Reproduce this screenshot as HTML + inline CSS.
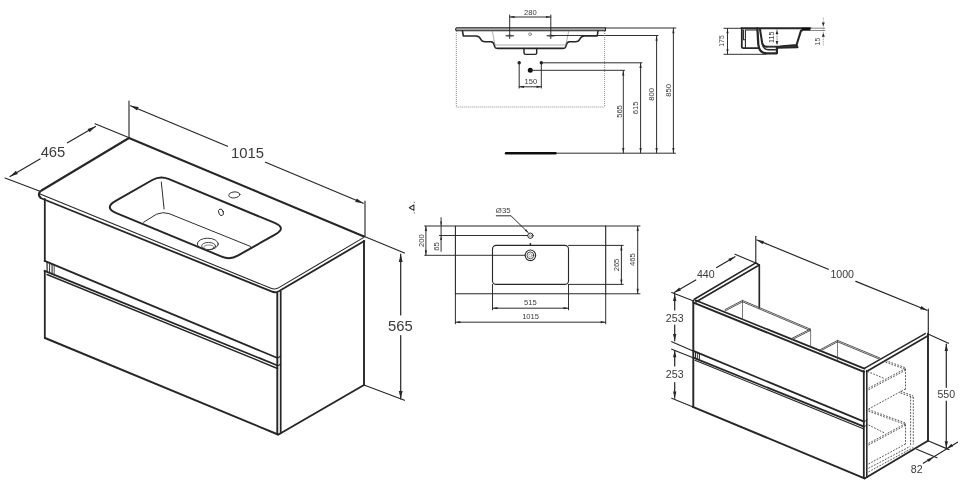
<!DOCTYPE html>
<html><head><meta charset="utf-8"><title>Technical drawing</title>
<style>
html,body{margin:0;padding:0;background:#fff;}
body{width:960px;height:492px;overflow:hidden;}
svg{display:block;font-family:"Liberation Sans",sans-serif;}
</style></head><body>
<svg width="960" height="492" viewBox="0 0 960 492" stroke-linecap="round" stroke-linejoin="round">
<defs><filter id="soft" x="0" y="0" width="960" height="492" filterUnits="userSpaceOnUse"><feGaussianBlur stdDeviation="0.45"/></filter></defs>
<rect width="960" height="492" fill="#fff"/>
<g filter="url(#soft)">
<path d="M40.5,197.5 Q38,195.5 39.5,192.5 Q40,191.5 41.5,190.5 L129,138 L364,236.5" stroke="#262626" stroke-width="2.1" fill="none" />
<path d="M39.5,193.7 L271,288.3 Q274.5,289.9 278,288.1 L363.5,237.6" stroke="#262626" stroke-width="1.08" fill="none" />
<path d="M40.5,198 L271.5,291.4 Q275,293.2 278.8,291.2 L364.3,241" stroke="#262626" stroke-width="1.86" fill="none" />
<line x1="44.8" y1="199.0" x2="44.8" y2="260.8" stroke="#262626" stroke-width="1.8" />
<line x1="44.8" y1="270.8" x2="44.8" y2="338.0" stroke="#262626" stroke-width="1.8" />
<line x1="45.0" y1="338.0" x2="278.0" y2="434.5" stroke="#262626" stroke-width="1.92" />
<line x1="277.3" y1="293.0" x2="277.3" y2="434.3" stroke="#262626" stroke-width="1.92" />
<line x1="280.7" y1="291.6" x2="280.7" y2="433.3" stroke="#262626" stroke-width="1.74" />
<line x1="278.5" y1="434.5" x2="364.0" y2="385.0" stroke="#262626" stroke-width="1.92" />
<line x1="364.0" y1="241.0" x2="364.0" y2="385.0" stroke="#262626" stroke-width="1.92" />
<line x1="47.1" y1="262.2" x2="47.1" y2="271.6" stroke="#262626" stroke-width="1.2" />
<line x1="49.6" y1="263.2" x2="49.6" y2="272.6" stroke="#262626" stroke-width="0.96" />
<line x1="52.1" y1="264.2" x2="52.1" y2="273.6" stroke="#262626" stroke-width="1.08" />
<line x1="54.2" y1="265.0" x2="54.2" y2="274.4" stroke="#262626" stroke-width="0.84" />
<line x1="44.6" y1="260.8" x2="277.5" y2="358.0" stroke="#262626" stroke-width="1.8" />
<line x1="44.6" y1="270.8" x2="277.5" y2="365.5" stroke="#262626" stroke-width="1.8" />
<line x1="47.0" y1="274.5" x2="277.5" y2="368.5" stroke="#262626" stroke-width="1.38" />
<line x1="277.3" y1="358.0" x2="280.7" y2="356.3" stroke="#262626" stroke-width="1.08" />
<line x1="277.3" y1="366.0" x2="280.7" y2="364.3" stroke="#262626" stroke-width="1.08" />
<path d="M152.3,180.0 Q160.1,175.5 168.4,178.9 L274.7,222.9 Q286.7,227.9 275.4,234.3 L237.8,255.7 Q230.0,260.1 221.7,256.7 L116.4,213.1 Q103.5,207.8 115.7,200.9 Z" stroke="#262626" stroke-width="1.98" fill="none" />
<path d="M143.5,222.3 L156.5,214.2 Q163,211.5 169,213.6 L250.7,246.5 L250.7,248.2" stroke="#262626" stroke-width="0.96" fill="none" />
<line x1="161.3" y1="182.0" x2="164.1" y2="209.0" stroke="#262626" stroke-width="0.96" />
<ellipse cx="234.3" cy="194.9" rx="5.6" ry="3" transform="rotate(-6 234.3 194.9)" fill="none" stroke="#262626" stroke-width="0.9"/>
<ellipse cx="221" cy="212.3" rx="2.3" ry="3.4" transform="rotate(-20 221 212.3)" fill="none" stroke="#262626" stroke-width="0.9"/>
<clipPath id="sk"><path d="M152.3,180.0 Q160.1,175.5 168.4,178.9 L274.7,222.9 Q286.7,227.9 275.4,234.3 L237.8,255.7 Q230.0,260.1 221.7,256.7 L116.4,213.1 Q103.5,207.8 115.7,200.9 Z"/></clipPath>
<g clip-path="url(#sk)"><ellipse cx="207.8" cy="244" rx="10.5" ry="5.8" fill="none" stroke="#262626" stroke-width="0.9"/><ellipse cx="208.6" cy="246" rx="7" ry="3.6" fill="none" stroke="#262626" stroke-width="0.8"/><ellipse cx="208.8" cy="247.4" rx="5" ry="2.4" fill="none" stroke="#555" stroke-width="0.7"/></g>
<line x1="129.0" y1="101.0" x2="129.0" y2="138.0" stroke="#262626" stroke-width="1.14" />
<line x1="365.0" y1="201.0" x2="365.0" y2="236.0" stroke="#262626" stroke-width="1.14" />
<line x1="130.5" y1="105.8" x2="227.5" y2="146.3" stroke="#262626" stroke-width="1.2" />
<line x1="265.5" y1="162.2" x2="363.3" y2="203.2" stroke="#262626" stroke-width="1.2" />
<polygon points="130.5,105.8 138.6,107.1 137.1,110.6" fill="#262626"/>
<polygon points="363.3,203.2 355.2,201.9 356.7,198.4" fill="#262626"/>
<text x="247.5" y="153.2" font-size="14.8" text-anchor="middle" dominant-baseline="central" fill="#3a3a3a">1015</text>
<line x1="5.0" y1="178.0" x2="40.0" y2="191.3" stroke="#262626" stroke-width="1.14" />
<line x1="95.0" y1="123.8" x2="128.0" y2="137.3" stroke="#262626" stroke-width="1.14" />
<line x1="10.0" y1="176.5" x2="40.0" y2="159.0" stroke="#262626" stroke-width="1.2" />
<line x1="67.5" y1="142.8" x2="95.5" y2="126.5" stroke="#262626" stroke-width="1.2" />
<polygon points="10.0,176.5 15.9,170.8 17.9,174.1" fill="#262626"/>
<polygon points="95.5,126.5 89.6,132.2 87.6,128.9" fill="#262626"/>
<text x="53.0" y="152.0" font-size="14.8" text-anchor="middle" dominant-baseline="central" fill="#3a3a3a">465</text>
<line x1="364.5" y1="236.5" x2="404.5" y2="253.0" stroke="#262626" stroke-width="1.14" />
<line x1="364.0" y1="385.0" x2="404.5" y2="400.2" stroke="#262626" stroke-width="1.14" />
<line x1="400.7" y1="254.0" x2="400.7" y2="315.0" stroke="#262626" stroke-width="1.2" />
<line x1="400.7" y1="335.5" x2="400.7" y2="399.0" stroke="#262626" stroke-width="1.2" />
<polygon points="400.7,254.0 402.6,262.0 398.8,262.0" fill="#262626"/>
<polygon points="400.7,399.0 398.8,391.0 402.6,391.0" fill="#262626"/>
<text x="400.3" y="325.5" font-size="14.8" text-anchor="middle" dominant-baseline="central" fill="#3a3a3a">565</text>
<path d="M409.3,207.8 L413.9,204.9 L413.9,210.4 Z" stroke="#2a2a2a" stroke-width="1.02" fill="none" />
<circle cx="414.3" cy="202.3" r="0.6" fill="#444"/><circle cx="414.3" cy="212.8" r="0.6" fill="#444"/>
<path d="M456.5,27.8 L605.5,27.8 L605.5,30.8 L456.5,30.8 Q454.6,29.3 456.5,27.8 Z" stroke="#262626" stroke-width="1.08" fill="#a8a8a8" />
<path d="M462.5,31 L463.3,35.9 L476,36 Q479.5,36.2 480.8,39.2 Q481.8,41.6 485,41.7 L491,41.8 Q493.6,42 494.2,45 L495,47.3 Q495.5,48.4 497.5,48.4 L563,48.4 Q565,48.4 565.5,47.3 L566.3,45 Q566.9,42 569.5,41.8 L575.5,41.7 Q578.7,41.6 579.7,39.2 Q581,36.2 584.5,36 L597.2,35.9 L598,31" stroke="#262626" stroke-width="1.56" fill="none" />
<path d="M524,48.4 L524,53 Q524,54.4 525.5,54.4 L535.2,54.4 Q536.7,54.4 536.7,53 L536.7,48.4" stroke="#262626" stroke-width="1.44" fill="none" />
<path d="M492.3,31 L495,45 L565.8,45 L568.7,31" stroke="#777" stroke-width="0.6" fill="none" />
<circle cx="530" cy="34.2" r="1.4" fill="none" stroke="#555" stroke-width="0.6"/>
<line x1="509.7" y1="15.0" x2="509.7" y2="38.5" stroke="#262626" stroke-width="0.96" />
<line x1="505.9" y1="35.8" x2="513.5" y2="35.8" stroke="#262626" stroke-width="1.08" />
<ellipse cx="509.7" cy="35.8" rx="2.6" ry="1" fill="none" stroke="#555" stroke-width="0.5"/>
<line x1="550.8" y1="15.0" x2="550.8" y2="38.5" stroke="#262626" stroke-width="0.96" />
<line x1="547.0" y1="35.8" x2="554.6" y2="35.8" stroke="#262626" stroke-width="1.08" />
<ellipse cx="550.8" cy="35.8" rx="2.6" ry="1" fill="none" stroke="#555" stroke-width="0.5"/>
<line x1="509.7" y1="17.0" x2="550.8" y2="17.0" stroke="#262626" stroke-width="0.96" />
<polygon points="509.7,17.0 514.5,15.9 514.5,18.1" fill="#262626"/>
<polygon points="550.8,17.0 546.0,18.1 546.0,15.9" fill="#262626"/>
<text x="530.3" y="12.2" font-size="7.6" text-anchor="middle" dominant-baseline="central" fill="#3a3a3a">280</text>
<line x1="550.8" y1="35.5" x2="658.0" y2="35.5" stroke="#262626" stroke-width="0.96" />
<line x1="605.5" y1="28.0" x2="675.8" y2="28.0" stroke="#262626" stroke-width="0.96" />
<line x1="456.3" y1="31.0" x2="456.3" y2="107.0" stroke="#777" stroke-width="0.84" stroke-dasharray="1 1" stroke-linecap="butt"/>
<line x1="604.6" y1="31.0" x2="604.6" y2="107.0" stroke="#777" stroke-width="0.84" stroke-dasharray="1 1" stroke-linecap="butt"/>
<line x1="456.3" y1="107.0" x2="604.6" y2="107.0" stroke="#777" stroke-width="0.84" stroke-dasharray="1 1" stroke-linecap="butt"/>
<circle cx="519.2" cy="62.8" r="1.7" fill="#262626"/><circle cx="541.3" cy="62.8" r="1.7" fill="#262626"/><circle cx="530.3" cy="70.3" r="2.5" fill="#111"/>
<line x1="519.2" y1="62.8" x2="519.2" y2="88.0" stroke="#262626" stroke-width="0.96" />
<line x1="541.3" y1="62.8" x2="541.3" y2="88.0" stroke="#262626" stroke-width="0.96" />
<line x1="519.2" y1="86.8" x2="541.3" y2="86.8" stroke="#262626" stroke-width="0.96" />
<polygon points="519.2,86.8 524.0,85.7 524.0,87.9" fill="#262626"/>
<polygon points="541.3,86.8 536.5,87.9 536.5,85.7" fill="#262626"/>
<text x="530.8" y="81.2" font-size="7.6" text-anchor="middle" dominant-baseline="central" fill="#3a3a3a">150</text>
<line x1="541.3" y1="62.8" x2="642.0" y2="62.8" stroke="#262626" stroke-width="0.96" />
<line x1="530.3" y1="70.3" x2="624.5" y2="70.3" stroke="#262626" stroke-width="0.96" />
<line x1="623.3" y1="70.6" x2="623.3" y2="153.0" stroke="#262626" stroke-width="0.96" />
<polygon points="623.3,70.6 624.4,75.6 622.2,75.6" fill="#262626"/>
<polygon points="623.3,153.0 622.2,148.0 624.4,148.0" fill="#262626"/>
<text x="619.0" y="111.5" font-size="7.6" text-anchor="middle" dominant-baseline="central" fill="#3a3a3a" transform="rotate(-90 619.0 111.5)">565</text>
<line x1="640.6" y1="63.0" x2="640.6" y2="153.0" stroke="#262626" stroke-width="0.96" />
<polygon points="640.6,63.0 641.7,68.0 639.5,68.0" fill="#262626"/>
<polygon points="640.6,153.0 639.5,148.0 641.7,148.0" fill="#262626"/>
<text x="635.8" y="107.8" font-size="7.6" text-anchor="middle" dominant-baseline="central" fill="#3a3a3a" transform="rotate(-90 635.8 107.8)">615</text>
<line x1="656.6" y1="35.7" x2="656.6" y2="153.0" stroke="#262626" stroke-width="0.96" />
<polygon points="656.6,35.7 657.7,40.7 655.5,40.7" fill="#262626"/>
<polygon points="656.6,153.0 655.5,148.0 657.7,148.0" fill="#262626"/>
<text x="651.7" y="94.4" font-size="7.6" text-anchor="middle" dominant-baseline="central" fill="#3a3a3a" transform="rotate(-90 651.7 94.4)">800</text>
<line x1="673.4" y1="28.2" x2="673.4" y2="153.0" stroke="#262626" stroke-width="0.96" />
<polygon points="673.4,28.2 674.5,33.2 672.3,33.2" fill="#262626"/>
<polygon points="673.4,153.0 672.3,148.0 674.5,148.0" fill="#262626"/>
<text x="668.4" y="90.3" font-size="7.6" text-anchor="middle" dominant-baseline="central" fill="#3a3a3a" transform="rotate(-90 668.4 90.3)">850</text>
<line x1="506.0" y1="153.2" x2="675.5" y2="153.2" stroke="#262626" stroke-width="0.96" />
<line x1="506.0" y1="153.2" x2="555.5" y2="153.2" stroke="#111" stroke-width="2.4" />
<line x1="724.0" y1="28.3" x2="741.8" y2="28.3" stroke="#262626" stroke-width="0.96" />
<line x1="724.0" y1="54.3" x2="766.0" y2="54.3" stroke="#262626" stroke-width="0.96" />
<line x1="727.5" y1="28.5" x2="727.5" y2="54.1" stroke="#262626" stroke-width="0.96" />
<polygon points="727.5,28.5 728.6,33.3 726.4,33.3" fill="#262626"/>
<polygon points="727.5,54.1 726.4,49.3 728.6,49.3" fill="#262626"/>
<text x="721.6" y="41.0" font-size="6.9" text-anchor="middle" dominant-baseline="central" fill="#3a3a3a" transform="rotate(-90 721.6 41.0)">175</text>
<line x1="741.5" y1="28.3" x2="810.3" y2="28.3" stroke="#262626" stroke-width="2.04" />
<rect x="801.7" y="27.7" width="8.6" height="3" fill="#111"/>
<path d="M741.8,28.3 L741.8,46.5 Q741.8,48.1 743.4,48.1 L757.6,48.1" stroke="#262626" stroke-width="1.8" fill="none" />
<path d="M743.4,30 L743.4,39.8 L745.4,39.8 M745.4,30 L745.4,48 M745.4,30 L757,30" stroke="#262626" stroke-width="1.08" fill="none" />
<path d="M757.4,28.3 L758.3,44.5 Q759.2,53.3 766.5,53.3 L776.9,53.3 L776.9,47.6 L797.4,47.2" stroke="#262626" stroke-width="2.28" fill="none" />
<path d="M760,29.4 L762.2,43 Q763,46.8 767,46.7 L779.8,46.6 L796.5,45 L801.1,30.4 L802,30.4" stroke="#262626" stroke-width="2.04" fill="none" />
<path d="M762.3,43.6 Q763.4,49.7 768.6,49.7 L775.3,49.7" stroke="#262626" stroke-width="1.44" fill="none" />
<line x1="797.5" y1="47.2" x2="797.0" y2="45.0" stroke="#262626" stroke-width="1.2" />
<rect x="767.6" y="46.8" width="7.2" height="1.3" fill="#777"/>
<line x1="777.0" y1="28.6" x2="777.0" y2="45.0" stroke="#262626" stroke-width="0.72" stroke-dasharray="1 0.8" stroke-linecap="butt"/>
<polygon points="777.0,30.2 778.4,34.0 775.6,34.0" fill="#262626"/>
<polygon points="777.0,44.8 775.6,41.0 778.4,41.0" fill="#262626"/>
<text x="771.4" y="37.2" font-size="7.2" text-anchor="middle" dominant-baseline="central" fill="#3a3a3a" transform="rotate(-90 771.4 37.2)">115</text>
<line x1="810.3" y1="28.2" x2="824.8" y2="28.2" stroke="#555" stroke-width="0.72" />
<line x1="810.3" y1="30.5" x2="824.8" y2="30.5" stroke="#555" stroke-width="0.72" />
<line x1="823.3" y1="17.5" x2="823.3" y2="45.5" stroke="#777" stroke-width="0.72" stroke-dasharray="1 0.8" stroke-linecap="butt"/>
<polygon points="823.3,26.2 821.8,22.4 824.8,22.4" fill="#262626"/>
<polygon points="823.3,33.0 824.8,36.8 821.8,36.8" fill="#262626"/>
<text x="818.0" y="41.6" font-size="6.9" text-anchor="middle" dominant-baseline="central" fill="#3a3a3a" transform="rotate(-90 818.0 41.6)">15</text>
<rect x="455.4" y="226" width="150.3" height="67.8" fill="none" stroke="#262626" stroke-width="1.1"/>
<rect x="492.5" y="245.4" width="76" height="39" rx="3.7" fill="none" stroke="#262626" stroke-width="1.1"/>
<circle cx="530.4" cy="235.7" r="2.7" fill="none" stroke="#262626" stroke-width="1.0"/><circle cx="530.4" cy="235.7" r="1.1" fill="none" stroke="#555" stroke-width="0.5"/>
<circle cx="530.4" cy="255.3" r="5.3" fill="none" stroke="#262626" stroke-width="1.1"/><circle cx="530.4" cy="255.3" r="3.4" fill="none" stroke="#262626" stroke-width="0.8"/><circle cx="530.4" cy="255.3" r="1.6" fill="none" stroke="#666" stroke-width="0.5"/>
<line x1="530.4" y1="243.6" x2="530.4" y2="245.2" stroke="#262626" stroke-width="1.44" />
<text x="503.2" y="210.6" font-size="7.8" text-anchor="middle" dominant-baseline="central" fill="#3a3a3a">Ø35</text>
<path d="M496.3,215.8 L511,215.8 L528.2,232.6" stroke="#262626" stroke-width="0.96" fill="none" />
<polygon points="528.6,233.0 524.8,230.5 526.1,229.2" fill="#262626"/>
<line x1="424.7" y1="226.0" x2="455.0" y2="226.0" stroke="#262626" stroke-width="0.96" />
<line x1="424.7" y1="255.3" x2="525.0" y2="255.3" stroke="#262626" stroke-width="0.96" />
<line x1="439.4" y1="235.5" x2="527.5" y2="235.5" stroke="#262626" stroke-width="0.96" />
<line x1="425.9" y1="226.2" x2="425.9" y2="255.1" stroke="#262626" stroke-width="0.96" />
<polygon points="425.9,226.2 427.0,231.0 424.8,231.0" fill="#262626"/>
<polygon points="425.9,255.1 424.8,250.3 427.0,250.3" fill="#262626"/>
<text x="421.3" y="240.6" font-size="7.6" text-anchor="middle" dominant-baseline="central" fill="#3a3a3a" transform="rotate(-90 421.3 240.6)">200</text>
<line x1="441.1" y1="217.7" x2="441.1" y2="251.3" stroke="#262626" stroke-width="0.96" />
<polygon points="441.1,226.0 440.2,221.5 442.0,221.5" fill="#262626"/>
<polygon points="441.1,235.6 442.0,240.1 440.2,240.1" fill="#262626"/>
<text x="436.2" y="246.5" font-size="7.6" text-anchor="middle" dominant-baseline="central" fill="#3a3a3a" transform="rotate(-90 436.2 246.5)">65</text>
<line x1="605.7" y1="226.0" x2="640.0" y2="226.0" stroke="#262626" stroke-width="0.96" />
<line x1="605.7" y1="293.8" x2="640.0" y2="293.8" stroke="#262626" stroke-width="0.96" />
<line x1="637.7" y1="226.2" x2="637.7" y2="293.6" stroke="#262626" stroke-width="0.96" />
<polygon points="637.7,226.2 638.8,231.0 636.6,231.0" fill="#262626"/>
<polygon points="637.7,293.6 636.6,288.8 638.8,288.8" fill="#262626"/>
<text x="633.0" y="259.7" font-size="7.6" text-anchor="middle" dominant-baseline="central" fill="#3a3a3a" transform="rotate(-90 633.0 259.7)">465</text>
<line x1="568.5" y1="245.4" x2="623.2" y2="245.4" stroke="#262626" stroke-width="0.96" />
<line x1="568.5" y1="284.4" x2="623.2" y2="284.4" stroke="#262626" stroke-width="0.96" />
<line x1="621.4" y1="245.6" x2="621.4" y2="284.2" stroke="#262626" stroke-width="0.96" />
<polygon points="621.4,245.6 622.5,250.4 620.3,250.4" fill="#262626"/>
<polygon points="621.4,284.2 620.3,279.4 622.5,279.4" fill="#262626"/>
<text x="616.5" y="265.0" font-size="7.6" text-anchor="middle" dominant-baseline="central" fill="#3a3a3a" transform="rotate(-90 616.5 265.0)">265</text>
<line x1="492.5" y1="284.4" x2="492.5" y2="309.8" stroke="#262626" stroke-width="0.96" />
<line x1="568.5" y1="284.4" x2="568.5" y2="309.8" stroke="#262626" stroke-width="0.96" />
<line x1="492.7" y1="308.2" x2="568.3" y2="308.2" stroke="#262626" stroke-width="0.96" />
<polygon points="492.7,308.2 497.5,307.1 497.5,309.3" fill="#262626"/>
<polygon points="568.3,308.2 563.5,309.3 563.5,307.1" fill="#262626"/>
<text x="530.3" y="302.6" font-size="7.6" text-anchor="middle" dominant-baseline="central" fill="#3a3a3a">515</text>
<line x1="455.4" y1="293.8" x2="455.4" y2="323.8" stroke="#262626" stroke-width="0.96" />
<line x1="605.7" y1="293.8" x2="605.7" y2="323.8" stroke="#262626" stroke-width="0.96" />
<line x1="455.6" y1="322.2" x2="605.5" y2="322.2" stroke="#262626" stroke-width="0.96" />
<polygon points="455.6,322.2 460.4,321.1 460.4,323.3" fill="#262626"/>
<polygon points="605.5,322.2 600.7,323.3 600.7,321.1" fill="#262626"/>
<text x="530.6" y="316.8" font-size="7.6" text-anchor="middle" dominant-baseline="central" fill="#3a3a3a">1015</text>
<path d="M694.3,299.2 L755.8,262.9 L759.3,264.9 L695.8,301.9" stroke="#262626" stroke-width="1.68" fill="none" />
<line x1="759.3" y1="265.0" x2="759.3" y2="307.8" stroke="#262626" stroke-width="1.68" />
<line x1="695.5" y1="300.2" x2="864.5" y2="368.6" stroke="#262626" stroke-width="1.68" />
<line x1="693.4" y1="302.6" x2="864.0" y2="371.8" stroke="#262626" stroke-width="1.92" />
<line x1="693.3" y1="300.6" x2="693.3" y2="406.8" stroke="#262626" stroke-width="1.92" />
<line x1="692.8" y1="406.8" x2="864.5" y2="478.4" stroke="#262626" stroke-width="1.92" />
<line x1="863.8" y1="371.0" x2="863.8" y2="478.0" stroke="#262626" stroke-width="1.8" />
<line x1="866.8" y1="370.5" x2="866.8" y2="477.2" stroke="#262626" stroke-width="1.56" />
<line x1="864.4" y1="368.4" x2="925.2" y2="333.6" stroke="#262626" stroke-width="1.56" />
<line x1="866.6" y1="371.5" x2="928.0" y2="335.8" stroke="#262626" stroke-width="1.8" />
<line x1="928.0" y1="333.8" x2="928.0" y2="440.8" stroke="#262626" stroke-width="1.92" />
<line x1="865.0" y1="478.3" x2="928.0" y2="440.8" stroke="#262626" stroke-width="1.92" />
<line x1="695.6" y1="352.0" x2="695.6" y2="357.9" stroke="#262626" stroke-width="1.08" />
<line x1="697.6" y1="352.8" x2="697.6" y2="358.8" stroke="#262626" stroke-width="0.84" />
<line x1="699.4" y1="353.6" x2="699.4" y2="359.6" stroke="#262626" stroke-width="0.96" />
<line x1="693.3" y1="350.9" x2="864.0" y2="421.6" stroke="#262626" stroke-width="1.68" />
<line x1="693.3" y1="357.6" x2="864.0" y2="426.6" stroke="#262626" stroke-width="1.68" />
<line x1="695.0" y1="360.3" x2="864.0" y2="429.0" stroke="#262626" stroke-width="1.08" />
<line x1="864.0" y1="421.6" x2="867.0" y2="420.0" stroke="#262626" stroke-width="0.84" />
<line x1="864.0" y1="426.6" x2="867.0" y2="425.0" stroke="#262626" stroke-width="0.84" />
<line x1="725.0" y1="309.6" x2="742.5" y2="300.4" stroke="#444" stroke-width="0.9" />
<line x1="725.0" y1="311.0" x2="742.5" y2="301.8" stroke="#444" stroke-width="0.9" />
<line x1="742.5" y1="300.4" x2="810.0" y2="329.0" stroke="#444" stroke-width="0.9" />
<line x1="742.5" y1="301.8" x2="810.0" y2="330.4" stroke="#444" stroke-width="0.9" />
<line x1="810.4" y1="329.0" x2="791.8" y2="338.4" stroke="#444" stroke-width="0.9" />
<line x1="810.4" y1="330.4" x2="791.8" y2="339.8" stroke="#444" stroke-width="0.9" />
<line x1="742.5" y1="300.8" x2="742.5" y2="319.5" stroke="#444" stroke-width="0.72" />
<line x1="810.6" y1="329.5" x2="810.6" y2="347.5" stroke="#444" stroke-width="0.72" />
<line x1="820.0" y1="349.8" x2="837.5" y2="340.4" stroke="#444" stroke-width="0.9" />
<line x1="820.0" y1="351.2" x2="837.5" y2="341.8" stroke="#444" stroke-width="0.9" />
<line x1="837.5" y1="340.4" x2="880.0" y2="358.0" stroke="#444" stroke-width="0.9" />
<line x1="837.5" y1="341.8" x2="880.0" y2="359.4" stroke="#444" stroke-width="0.9" />
<line x1="837.5" y1="341.0" x2="837.5" y2="359.5" stroke="#444" stroke-width="0.72" />
<line x1="885.6" y1="360.6" x2="905.5" y2="367.8" stroke="#3a3a3a" stroke-width="0.84" stroke-dasharray="1.8 1.3" stroke-linecap="butt"/>
<line x1="885.6" y1="362.2" x2="905.5" y2="369.4" stroke="#3a3a3a" stroke-width="0.84" stroke-dasharray="1.8 1.3" stroke-linecap="butt"/>
<line x1="867.5" y1="371.5" x2="884.2" y2="378.4" stroke="#3a3a3a" stroke-width="0.84" stroke-dasharray="1.8 1.3" stroke-linecap="butt"/>
<line x1="868.5" y1="388.2" x2="905.5" y2="368.6" stroke="#3a3a3a" stroke-width="0.84" stroke-dasharray="1.8 1.3" stroke-linecap="butt"/>
<line x1="868.5" y1="389.8" x2="905.5" y2="370.2" stroke="#3a3a3a" stroke-width="0.84" stroke-dasharray="1.8 1.3" stroke-linecap="butt"/>
<line x1="905.5" y1="369.0" x2="905.5" y2="389.5" stroke="#3a3a3a" stroke-width="0.84" stroke-dasharray="1.8 1.3" stroke-linecap="butt"/>
<line x1="905.5" y1="389.0" x2="868.5" y2="409.0" stroke="#3a3a3a" stroke-width="0.84" stroke-dasharray="1.8 1.3" stroke-linecap="butt"/>
<line x1="900.5" y1="391.4" x2="913.3" y2="395.8" stroke="#3a3a3a" stroke-width="0.84" stroke-dasharray="1.8 1.3" stroke-linecap="butt"/>
<line x1="900.5" y1="393.0" x2="913.3" y2="397.4" stroke="#3a3a3a" stroke-width="0.84" stroke-dasharray="1.8 1.3" stroke-linecap="butt"/>
<line x1="910.6" y1="396.5" x2="910.6" y2="446.0" stroke="#3a3a3a" stroke-width="0.84" stroke-dasharray="1.8 1.3" stroke-linecap="butt"/>
<line x1="913.3" y1="397.0" x2="913.3" y2="444.5" stroke="#3a3a3a" stroke-width="0.84" stroke-dasharray="1.8 1.3" stroke-linecap="butt"/>
<line x1="868.5" y1="409.6" x2="905.5" y2="423.0" stroke="#3a3a3a" stroke-width="0.84" stroke-dasharray="1.8 1.3" stroke-linecap="butt"/>
<line x1="868.5" y1="411.2" x2="905.5" y2="424.6" stroke="#3a3a3a" stroke-width="0.84" stroke-dasharray="1.8 1.3" stroke-linecap="butt"/>
<line x1="868.5" y1="425.0" x2="884.0" y2="432.7" stroke="#3a3a3a" stroke-width="0.84" stroke-dasharray="1.8 1.3" stroke-linecap="butt"/>
<line x1="868.5" y1="443.4" x2="905.5" y2="423.6" stroke="#3a3a3a" stroke-width="0.84" stroke-dasharray="1.8 1.3" stroke-linecap="butt"/>
<line x1="868.5" y1="445.0" x2="905.5" y2="425.2" stroke="#3a3a3a" stroke-width="0.84" stroke-dasharray="1.8 1.3" stroke-linecap="butt"/>
<line x1="905.5" y1="424.5" x2="905.5" y2="444.0" stroke="#3a3a3a" stroke-width="0.84" stroke-dasharray="1.8 1.3" stroke-linecap="butt"/>
<line x1="868.5" y1="464.0" x2="905.5" y2="444.0" stroke="#3a3a3a" stroke-width="0.84" stroke-dasharray="1.8 1.3" stroke-linecap="butt"/>
<line x1="868.5" y1="468.3" x2="910.3" y2="446.3" stroke="#3a3a3a" stroke-width="0.84" stroke-dasharray="1.8 1.3" stroke-linecap="butt"/>
<line x1="868.5" y1="471.9" x2="913.3" y2="447.5" stroke="#3a3a3a" stroke-width="0.84" stroke-dasharray="1.8 1.3" stroke-linecap="butt"/>
<line x1="755.8" y1="236.3" x2="755.8" y2="263.2" stroke="#262626" stroke-width="1.14" />
<line x1="928.3" y1="309.0" x2="928.3" y2="333.8" stroke="#262626" stroke-width="1.14" />
<line x1="757.0" y1="240.0" x2="828.3" y2="269.3" stroke="#262626" stroke-width="1.2" />
<line x1="855.8" y1="281.4" x2="927.0" y2="310.3" stroke="#262626" stroke-width="1.2" />
<polygon points="757.0,240.0 763.9,241.0 762.6,244.2" fill="#262626"/>
<polygon points="927.0,310.3 920.1,309.3 921.4,306.1" fill="#262626"/>
<text x="842.2" y="274.2" font-size="10.6" text-anchor="middle" dominant-baseline="central" fill="#3a3a3a">1000</text>
<line x1="671.7" y1="292.5" x2="693.0" y2="300.8" stroke="#262626" stroke-width="1.14" />
<line x1="735.0" y1="254.2" x2="755.8" y2="263.0" stroke="#262626" stroke-width="1.14" />
<line x1="674.2" y1="292.5" x2="695.8" y2="280.0" stroke="#262626" stroke-width="1.2" />
<line x1="716.7" y1="267.6" x2="735.0" y2="256.7" stroke="#262626" stroke-width="1.2" />
<polygon points="674.2,292.5 679.2,287.6 680.9,290.5" fill="#262626"/>
<polygon points="735.0,256.7 730.0,261.6 728.3,258.7" fill="#262626"/>
<text x="705.8" y="273.7" font-size="10.6" text-anchor="middle" dominant-baseline="central" fill="#3a3a3a">440</text>
<line x1="671.7" y1="341.7" x2="692.5" y2="350.8" stroke="#262626" stroke-width="1.14" />
<line x1="671.7" y1="349.2" x2="692.5" y2="357.5" stroke="#262626" stroke-width="1.14" />
<line x1="671.7" y1="398.3" x2="692.5" y2="406.7" stroke="#262626" stroke-width="1.14" />
<line x1="674.7" y1="294.2" x2="674.7" y2="310.0" stroke="#262626" stroke-width="1.2" />
<line x1="674.7" y1="325.0" x2="674.7" y2="340.8" stroke="#262626" stroke-width="1.2" />
<polygon points="674.7,294.2 676.4,301.0 673.0,301.0" fill="#262626"/>
<polygon points="674.7,340.8 673.0,334.0 676.4,334.0" fill="#262626"/>
<text x="674.7" y="317.5" font-size="10.6" text-anchor="middle" dominant-baseline="central" fill="#3a3a3a">253</text>
<line x1="674.7" y1="350.5" x2="674.7" y2="366.0" stroke="#262626" stroke-width="1.2" />
<line x1="674.7" y1="382.5" x2="674.7" y2="398.2" stroke="#262626" stroke-width="1.2" />
<polygon points="674.7,350.5 676.4,357.3 673.0,357.3" fill="#262626"/>
<polygon points="674.7,398.2 673.0,391.4 676.4,391.4" fill="#262626"/>
<text x="674.7" y="374.2" font-size="10.6" text-anchor="middle" dominant-baseline="central" fill="#3a3a3a">253</text>
<line x1="928.0" y1="334.0" x2="948.5" y2="343.3" stroke="#262626" stroke-width="1.14" />
<line x1="928.0" y1="440.8" x2="949.0" y2="449.6" stroke="#262626" stroke-width="1.14" />
<line x1="946.3" y1="344.2" x2="946.3" y2="387.3" stroke="#262626" stroke-width="1.2" />
<line x1="946.3" y1="401.0" x2="946.3" y2="448.0" stroke="#262626" stroke-width="1.2" />
<polygon points="946.3,344.2 948.0,351.0 944.6,351.0" fill="#262626"/>
<polygon points="946.3,448.0 944.6,441.2 948.0,441.2" fill="#262626"/>
<text x="946.3" y="394.2" font-size="10.6" text-anchor="middle" dominant-baseline="central" fill="#3a3a3a">550</text>
<line x1="916.7" y1="449.2" x2="937.0" y2="457.8" stroke="#262626" stroke-width="1.14" />
<line x1="923.3" y1="463.3" x2="957.5" y2="442.2" stroke="#262626" stroke-width="1.14" />
<polygon points="933.5,457.2 928.8,462.0 927.1,459.2" fill="#262626"/>
<polygon points="946.7,448.6 951.4,443.8 953.1,446.6" fill="#262626"/>
<text x="916.7" y="468.7" font-size="10.6" text-anchor="middle" dominant-baseline="central" fill="#3a3a3a">82</text>
</g>
</svg>
</body></html>
